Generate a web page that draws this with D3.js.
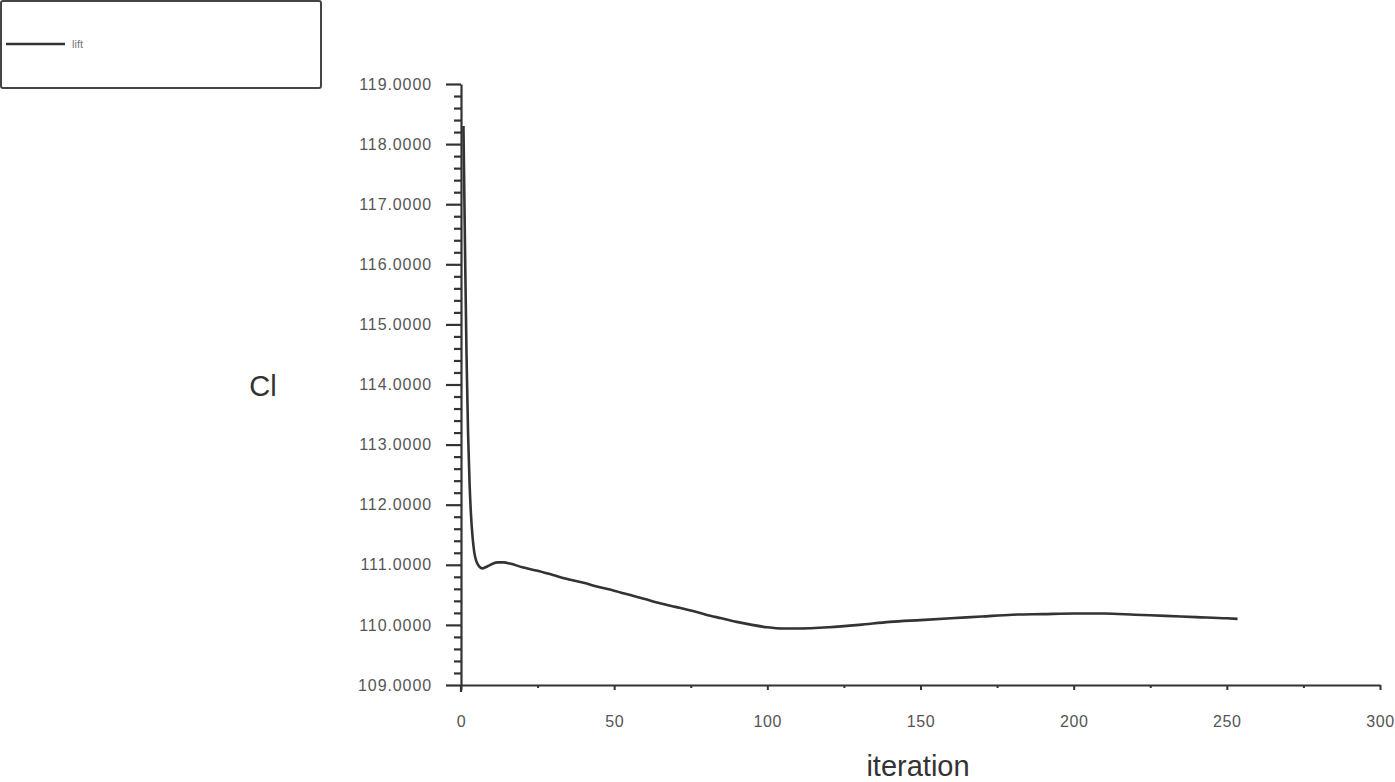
<!DOCTYPE html>
<html>
<head>
<meta charset="utf-8">
<script src="https://cdn.jsdelivr.net/npm/d3@7"></script>
<style>
  html, body { margin: 0; padding: 0; background: #fff; }
  svg { display: block; }
</style>
</head>
<body>
<svg id="chart" width="1395" height="782"></svg>
<script>
// Data
const seriesName = "lift";
const iterations = [0.8, 1.3, 1.8, 2.3, 2.8, 3.3, 3.8, 4.3, 5, 6, 7, 8, 10, 12, 14, 16, 20, 25, 30, 35, 40, 45, 50, 55, 60, 65, 70, 75, 80, 85, 90, 95, 100, 105, 110, 120, 130, 140, 150, 160, 170, 180, 190, 200, 210, 220, 230, 240, 250, 253.5];
const liftValues = [118.3, 116.3, 114.5, 113.2, 112.35, 111.8, 111.45, 111.22, 111.06, 110.97, 110.94, 110.96, 111.01, 111.04, 111.04, 111.02, 110.96, 110.9, 110.83, 110.76, 110.7, 110.63, 110.57, 110.5, 110.43, 110.36, 110.3, 110.24, 110.17, 110.11, 110.05, 110.0, 109.96, 109.94, 109.94, 109.96, 110.0, 110.05, 110.08, 110.11, 110.14, 110.17, 110.18, 110.19, 110.19, 110.17, 110.15, 110.13, 110.11, 110.1];
const xTickValues = [0, 50, 100, 150, 200, 250, 300];
const yTickValues = [109, 110, 111, 112, 113, 114, 115, 116, 117, 118, 119];
const xLabel = "iteration";
const yLabel = "Cl";

const svg = d3.select("#chart");
const x = d3.scaleLinear().domain([0, 300]).range([461, 1380]);
const y = d3.scaleLinear().domain([109, 119]).range([685, 84]);

const axisColor = "#333";
const textColor = "#555";

// Y axis
const yMinor = d3.range(109, 119.0001, 0.2).filter(v => Math.abs(v - Math.round(v)) > 1e-6);
const yAxis = svg.append("g").attr("transform", `translate(${x(0)},0)`)
  .call(d3.axisLeft(y).tickValues(yTickValues).tickSize(15).tickSizeOuter(0).tickPadding(14).tickFormat(d3.format(".4f")));
yAxis.select(".domain").attr("stroke", axisColor).attr("stroke-width", 2.2);
yAxis.selectAll(".tick line").attr("stroke", axisColor).attr("stroke-width", 2.2);
yAxis.selectAll(".tick text").attr("fill", textColor).attr("font-family", "Liberation Sans, Arial, sans-serif")
  .attr("font-size", 16).attr("letter-spacing", "0.9px");
const yAxisMinor = svg.append("g").attr("transform", `translate(${x(0)},0)`)
  .call(d3.axisLeft(y).tickValues(yMinor).tickSize(7).tickSizeOuter(0).tickFormat(""));
yAxisMinor.select(".domain").remove();
yAxisMinor.selectAll(".tick line").attr("stroke", axisColor).attr("stroke-width", 2.2);

// extension of y axis below x axis
svg.append("line").attr("x1", x(0)).attr("x2", x(0)).attr("y1", y(109)).attr("y2", y(109) + 7)
  .attr("stroke", axisColor).attr("stroke-width", 2.2);

// X axis
const xMinor = [25, 75, 125, 175, 225, 275];
const xAxis = svg.append("g").attr("transform", `translate(0,${y(109)})`)
  .call(d3.axisBottom(x).tickValues(xTickValues).tickSize(5).tickSizeOuter(0).tickPadding(26).tickFormat(d3.format("d")));
xAxis.select(".domain").attr("stroke", axisColor).attr("stroke-width", 2.2);
xAxis.selectAll(".tick line").attr("stroke", axisColor).attr("stroke-width", 2);
xAxis.selectAll(".tick text").attr("fill", textColor).attr("font-family", "Liberation Sans, Arial, sans-serif")
  .attr("font-size", 16).attr("letter-spacing", "0.6px");
const xAxisMinor = svg.append("g").attr("transform", `translate(0,${y(109)})`)
  .call(d3.axisBottom(x).tickValues(xMinor).tickSize(3).tickSizeOuter(0).tickFormat(""));
xAxisMinor.select(".domain").remove();
xAxisMinor.selectAll(".tick line").attr("stroke", axisColor).attr("stroke-width", 2);

// Line
const data = iterations.map((it, i) => ({ it, v: liftValues[i] }));
svg.append("path").datum(data)
  .attr("fill", "none").attr("stroke", "#333").attr("stroke-width", 2.6)
  .attr("stroke-linejoin", "round")
  .attr("d", d3.line().x(d => x(d.it)).y(d => y(d.v)).curve(d3.curveMonotoneX));

// Axis labels
svg.append("text").attr("x", 263).attr("y", 396).attr("text-anchor", "middle")
  .attr("font-family", "Liberation Sans, Arial, sans-serif").attr("font-size", 29).attr("fill", "#333")
  .text(yLabel);
svg.append("text").attr("x", 918).attr("y", 776).attr("text-anchor", "middle")
  .attr("font-family", "Liberation Sans, Arial, sans-serif").attr("font-size", 29).attr("fill", "#333")
  .text(xLabel);

// Legend
const legend = svg.append("g");
legend.append("rect").attr("x", 1).attr("y", 1).attr("width", 320).attr("height", 87).attr("rx", 2)
  .attr("fill", "#fff").attr("stroke", "#444").attr("stroke-width", 2);
legend.append("line").attr("x1", 6).attr("x2", 65).attr("y1", 44).attr("y2", 44)
  .attr("stroke", "#333").attr("stroke-width", 2.6);
legend.append("text").attr("x", 72).attr("y", 48).attr("font-family", "Liberation Sans, Arial, sans-serif")
  .attr("font-size", 11).attr("fill", "#777").text(seriesName);
</script>
</body>
</html>
